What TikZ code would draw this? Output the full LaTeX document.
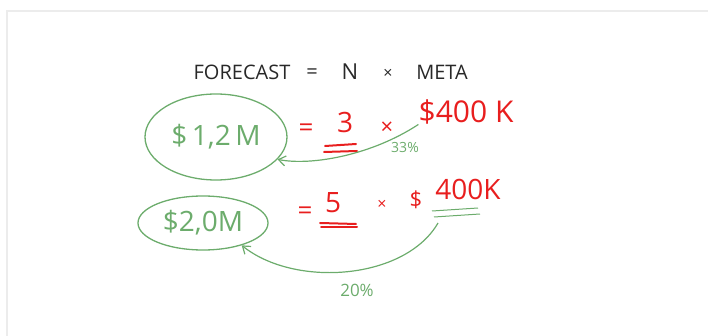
\documentclass[tikz,border=0pt]{standalone}
\usepackage{fontspec}
\setmainfont{Open Sans}
\usepackage{tikz}
\usetikzlibrary{shapes.geometric, arrows.meta}

\definecolor{butxanh}{RGB}{108,172,108}
\definecolor{butdo}{RGB}{232,30,30}
\definecolor{butden}{RGB}{40,40,40}
\definecolor{vien}{RGB}{236,236,236}

\begin{document}
\begin{tikzpicture}[x=1pt, y=-1pt,
    chuden/.style={text=butden, inner sep=0pt},
    chudo/.style={text=butdo, inner sep=0pt},
    chuxanh/.style={text=butxanh, inner sep=0pt},
    vong/.style={draw=butxanh, ellipse, line width=1.3pt, inner sep=0pt},
    gachdo/.style={draw=butdo, line width=2pt, line cap=round},
    muixanh/.style={draw=butxanh, line width=1.2pt, -{Straight Barb[length=7pt, width=10pt]}}]
    \useasboundingbox (0,0) rectangle (708,336);
    % Khung nền
    \draw[vien, line width=2pt] (6.5,336) -- (6.5,11.5) -- (708,11.5);

    % Dòng tiêu đề
    \node[chuden, font=\fontsize{20}{22}\selectfont] (fc) at (242,72) {FORECAST};
    \node[chuden, font=\fontsize{20}{22}\selectfont] (eqT) at (312,74) {=};
    \node[chuden, font=\fontsize{22}{24}\selectfont] (nT) at (350,72) {N};
    \node[chuden, font=\fontsize{16}{18}\selectfont] (xT) at (388,74) {×};
    \node[chuden, font=\fontsize{20}{22}\selectfont] (meta) at (442,72) {META};

    % Dòng 1
    \node[vong, minimum width=142pt, minimum height=86pt,
          chuxanh, font=\fontsize{28}{30}\selectfont] (ellA) at (216,137) {\$\,1,2\,M};
    \node[chudo, font=\fontsize{26}{28}\selectfont] (eqA) at (306,130) {=};
    \node[chudo, font=\fontsize{28}{30}\selectfont] (nA) at (345,123) {3};
    \draw[gachdo] (325,146) -- (356,144);
    \draw[gachdo] (324,152) -- (357,151);
    \node[chudo, font=\fontsize{22}{24}\selectfont] (xA) at (387,128) {×};
    \node[chudo, font=\fontsize{30}{32}\selectfont] (kA) at (466,112) {\$400 K};
    \draw[muixanh] (kA.south west) .. controls (372,155) and (312,166) .. (ellA.-20);
    \node[chuxanh, font=\fontsize{14}{16}\selectfont] (pA) at (405,148) {33\%};

    % Dòng 2
    \node[vong, minimum width=130pt, minimum height=54pt,
          chuxanh, font=\fontsize{28}{30}\selectfont] (ellB) at (203,223) {\$2,0M};
    \node[chudo, font=\fontsize{26}{28}\selectfont] (eqB) at (305,213) {=};
    \node[chudo, font=\fontsize{28}{30}\selectfont] (nB) at (333,203) {5};
    \draw[gachdo] (320,223) -- (356,224);
    \draw[gachdo] (321,227) -- (357,227);
    \node[chudo, font=\fontsize{16}{18}\selectfont] (xB) at (382,205) {×};
    \node[chudo, font=\fontsize{22}{24}\selectfont] (dB) at (416,200) {\$};
    \node[chudo, font=\fontsize{28}{30}\selectfont] (kB) at (468,189) {400K};
    \draw[butxanh, line width=1pt] (432,211) -- (478,208);
    \draw[butxanh, line width=1pt] (434,217) -- (480,214);
    \coordinate (goc) at (438,223);
    \draw[muixanh] (goc) .. controls (405,280) and (295,288) .. (ellB.-30);
    \node[chuxanh, font=\fontsize{17}{19}\selectfont] (pB) at (357,290) {20\%};
\end{tikzpicture}
\end{document}
